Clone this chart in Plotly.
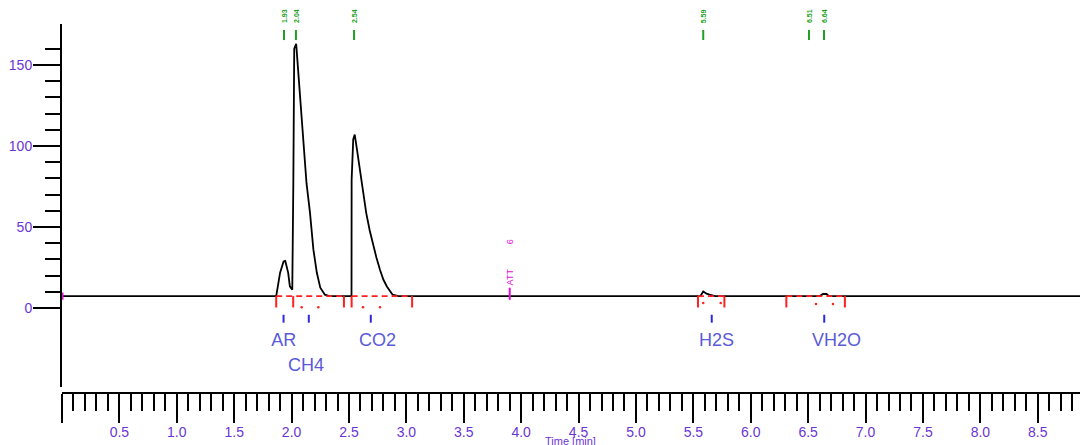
import plotly.graph_objects as go

# Detector signal (mV) against retention time (min)
TIME = [0.0, 1.866, 1.90, 1.93, 1.945, 1.97, 1.985, 2.006, 2.015, 2.023, 2.04,
        2.058, 2.078, 2.095, 2.13, 2.16, 2.19, 2.22, 2.25, 2.29, 2.33,
        2.522, 2.523, 2.537, 2.55, 2.57, 2.596, 2.625, 2.65, 2.68, 2.71, 2.74,
        2.77, 2.80, 2.83, 2.86, 2.88, 2.93,
        5.56, 5.586, 5.615, 5.64, 5.67, 5.69,
        6.60, 6.63, 6.66, 6.68, 8.868]
SIGNAL = [7.3, 7.3, 21.8, 28.7, 29.0, 21.8, 13.3, 11.3, 76.0, 160.0, 163.0,
          145.0, 124.0, 106.0, 77.0, 59.0, 36.0, 21.7, 12.5, 8.2, 7.3,
          7.3, 79.0, 104.0, 107.0, 97.6, 84.0, 71.0, 58.7, 48.0, 39.0, 30.8,
          23.6, 17.4, 13.3, 10.2, 8.2, 7.3,
          7.3, 10.2, 8.8, 8.2, 7.8, 7.3,
          7.3, 8.6, 8.6, 7.3, 7.3]
BASELINE = 7.3

# Integration segments (start, end) and their boundary markers
INT_SEGMENTS = [(1.866, 2.456), (2.523, 3.05), (5.54, 5.77), (6.31, 6.82)]
INT_TICKS = [1.866, 2.014, 2.456, 2.523, 3.05, 5.54, 5.77, 6.31, 6.82]
INT_DOTS_T = [2.088, 2.233, 2.622, 2.77, 5.586, 5.738, 6.568, 6.716]
INT_DOTS_V = [0.5, 0.5, 0.5, 0.5, 3.0, 3.0, 2.5, 2.5]

# Identified components
PEAK_NAMES = ["AR", "CH4", "CO2", "H2S", "VH2O"]
PEAK_TIMES = [1.93, 2.15, 2.69, 5.66, 6.64]
NAME_X = [1.931, 2.126, 2.748, 5.701, 6.746]
NAME_Y = [-20.5, -36.0, -20.5, -20.5, -20.5]

# Detected apexes (top markers)
APEX_TIMES = [1.934, 2.038, 2.544, 5.586, 6.507, 6.638]
APEX_TEXT = ["1.93", "2.04", "2.54", "5.59", "6.51", "6.64"]

# Timed event
EVENT_TIME = 3.90
EVENT_TEXT = ["ATT", "6"]
EVENT_TEXT_Y = [19.3, 41.0]

X_TICKS = [0.0, 0.5, 1.0, 1.5, 2.0, 2.5, 3.0, 3.5, 4.0, 4.5, 5.0, 5.5, 6.0,
           6.5, 7.0, 7.5, 8.0, 8.5]
X_TICK_TEXT = [""] + ["%.1f" % v for v in X_TICKS[1:]]
Y_TICKS = [0, 50, 100, 150]
Y_MINOR_TICKS = [10, 20, 30, 40, 60, 70, 80, 90, 110, 120, 130, 140, 160]

LABEL_COLOR = "#6a35d5"
NAME_COLOR = "#5a5ad8"
RED = "#ff2020"
GREEN = "#22a022"
BLUE = "#2a2ae0"
MAGENTA = "#e010d8"
FONT = "Liberation Sans, Arial, sans-serif"


def segments(pairs):
    xs, ys = [], []
    for (x0, y0), (x1, y1) in pairs:
        xs += [x0, x1, None]
        ys += [y0, y1, None]
    return xs, ys


fig = go.Figure()

# chromatogram
fig.add_trace(go.Scatter(x=TIME, y=SIGNAL, mode="lines",
                         line=dict(color="black", width=1.8),
                         hoverinfo="skip"))

# integration baselines (dashed) and boundary ticks
sx, sy = segments([((a, BASELINE), (b, BASELINE)) for a, b in INT_SEGMENTS])
fig.add_trace(go.Scatter(x=sx, y=sy, mode="lines",
                         line=dict(color=RED, width=1.6, dash="6px,4px"),
                         hoverinfo="skip"))
tx, ty = segments([((t, BASELINE), (t, 0.3)) for t in INT_TICKS])
fig.add_trace(go.Scatter(x=tx, y=ty, mode="lines",
                         line=dict(color=RED, width=2), hoverinfo="skip"))
fig.add_trace(go.Scatter(x=INT_DOTS_T, y=INT_DOTS_V, mode="markers",
                         marker=dict(color=RED, size=2.5), hoverinfo="skip"))

# component markers
bx, by = segments([((t, -4.2), (t, -9.1)) for t in PEAK_TIMES])
fig.add_trace(go.Scatter(x=bx, y=by, mode="lines",
                         line=dict(color=BLUE, width=2), hoverinfo="skip"))
fig.add_trace(go.Scatter(x=NAME_X, y=NAME_Y, mode="text", text=PEAK_NAMES,
                         textfont=dict(family=FONT, size=18, color=NAME_COLOR),
                         hoverinfo="skip"))

# apex markers along the top
gx, gy = segments([((t, 165.4), (t, 171.6)) for t in APEX_TIMES])
fig.add_trace(go.Scatter(x=gx, y=gy, mode="lines", cliponaxis=False,
                         line=dict(color=GREEN, width=2), hoverinfo="skip"))
for t, txt in zip(APEX_TIMES, APEX_TEXT):
    fig.add_annotation(x=t, y=1.0, xref="x", yref="paper", text="<b>%s</b>" % txt,
                       showarrow=False, textangle=-90, yanchor="bottom",
                       yshift=-1, font=dict(family=FONT, size=7, color=GREEN))

# timed event marker
fig.add_trace(go.Scatter(x=[EVENT_TIME, EVENT_TIME], y=[5.0, 12.5],
                         mode="lines", line=dict(color=MAGENTA, width=2),
                         hoverinfo="skip"))
for txt, yv in zip(EVENT_TEXT, EVENT_TEXT_Y):
    fig.add_annotation(x=EVENT_TIME, y=yv, xref="x", yref="y", text=txt,
                       showarrow=False, textangle=-90,
                       font=dict(family=FONT, size=9, color=MAGENTA))

# start-of-run marker on the signal axis
fig.add_trace(go.Scatter(x=[0.0, 0.0], y=[5.0, 9.5], mode="lines",
                         cliponaxis=False, line=dict(color=MAGENTA, width=3),
                         hoverinfo="skip"))

fig.add_annotation(x=4.43, y=-0.108, xref="x", yref="paper",
                   text="Time [min]", showarrow=False, yanchor="top",
                   font=dict(family=FONT, size=11, color=LABEL_COLOR))

fig.update_layout(
    width=1080, height=445,
    margin=dict(l=62, r=0, t=24, b=52),
    paper_bgcolor="white", plot_bgcolor="white",
    showlegend=False,
    xaxis=dict(range=[0, 8.868], anchor="free", position=0,
               showline=True, linecolor="black", linewidth=2,
               showgrid=False, zeroline=False,
               tickmode="array", tickvals=X_TICKS, ticktext=X_TICK_TEXT,
               ticks="outside", ticklen=29, tickwidth=2, tickcolor="black",
               ticklabelstandoff=-3,
               minor=dict(dtick=0.1, tick0=0, ticks="outside", ticklen=17,
                          tickwidth=2, tickcolor="black"),
               tickfont=dict(family=FONT, size=14, color=LABEL_COLOR)),
    yaxis=dict(range=[-48.8, 175.3], domain=[6 / 369, 1],
               showline=True, linecolor="black", linewidth=2,
               showgrid=False, zeroline=False,
               tickmode="array", tickvals=Y_TICKS,
               ticks="outside", ticklen=27, tickwidth=2, tickcolor="black",
               ticklabelstandoff=-2,
               minor=dict(tickmode="array", tickvals=Y_MINOR_TICKS,
                          ticks="outside", ticklen=15,
                          tickwidth=2, tickcolor="black"),
               tickfont=dict(family=FONT, size=14, color=LABEL_COLOR)),
)

fig.write_html("out.html")
